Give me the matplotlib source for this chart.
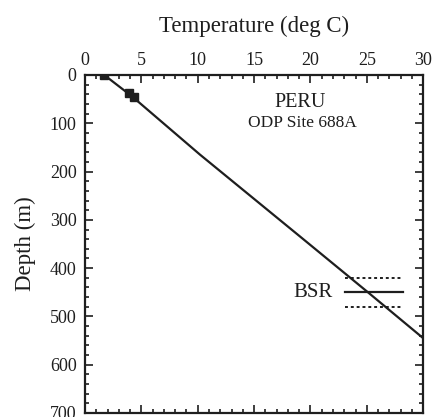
import numpy as np
import matplotlib.pyplot as plt
from matplotlib.ticker import MultipleLocator

# temperature profile (deg C vs depth m)
temp = [1.7, 4.2, 10.2, 19.1, 25.1, 30.0]
depth = [0, 45, 165, 335, 450, 545]

# measured points
meas_t = [1.7, 3.9, 4.3]
meas_d = [0, 37, 45]

# BSR depth and uncertainty
bsr_d = 450
bsr_lo, bsr_hi = 420, 480
bsr_t = [23.1, 28.2]

plt.rcParams['font.family'] = ['Liberation Serif', 'DejaVu Serif']
c = '#1e1e1e'

fig = plt.figure(figsize=(4.34, 4.17), dpi=100)
ax = fig.add_axes([0.196, 0.0096, 0.779, 0.8106])

ax.plot(temp, depth, color=c, lw=1.6)
ax.plot(meas_t, meas_d, 's', color=c, ms=5.5)

ax.plot(bsr_t, [bsr_d, bsr_d], color=c, lw=1.6)
ax.plot(bsr_t, [bsr_lo, bsr_lo], color=c, lw=1.4, ls=(0, (1.5, 1.5)))
ax.plot(bsr_t, [bsr_hi, bsr_hi], color=c, lw=1.4, ls=(0, (1.5, 1.5)))
ax.text(22.0, bsr_d, 'BSR', ha='right', va='center', fontsize=15, color=c)

ax.text(19.1, 58, 'PERU', ha='center', va='center', fontsize=14.5, color=c)
ax.text(19.3, 100, 'ODP Site 688A', ha='center', va='center', fontsize=12.5, color=c)

ax.set_xlim(0, 30)
ax.set_ylim(700, 0)
ax.xaxis.set_major_locator(MultipleLocator(5))
ax.xaxis.set_minor_locator(MultipleLocator(1))
ax.yaxis.set_major_locator(MultipleLocator(100))
ax.yaxis.set_minor_locator(MultipleLocator(20))
ax.xaxis.tick_top()
ax.xaxis.set_label_position('top')
ax.tick_params(which='both', direction='in', top=True, bottom=True, left=True, right=True,
               colors=c, labelsize=13, width=1.2)
ax.tick_params(which='major', length=6)
ax.tick_params(axis='y', which='major', pad=6)
ax.tick_params(axis='x', which='major', pad=4)
ax.tick_params(which='minor', length=3)
for s in ax.spines.values():
    s.set_linewidth(1.6)
    s.set_color(c)

ax.set_xlabel('Temperature (deg C)', fontsize=16.5, color=c, labelpad=15)
ax.set_ylabel('Depth (m)', fontsize=16.5, color=c, labelpad=10)

fig.savefig('out.png', dpi=100)
